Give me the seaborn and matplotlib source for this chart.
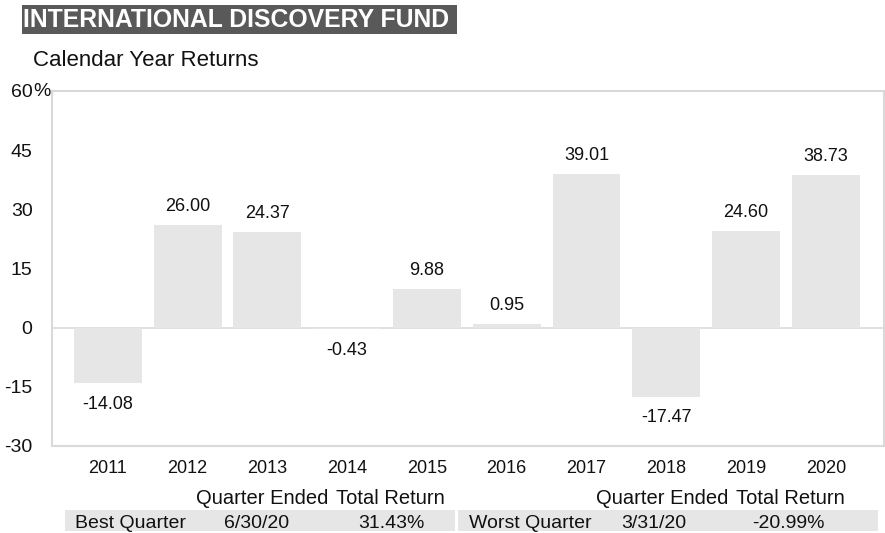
import matplotlib
matplotlib.use("Agg")
import matplotlib.pyplot as plt
import seaborn as sns
import pandas as pd
from matplotlib.patches import Rectangle

years = ["2011", "2012", "2013", "2014", "2015", "2016", "2017", "2018", "2019", "2020"]
returns = [-14.08, 26.00, 24.37, -0.43, 9.88, 0.95, 39.01, -17.47, 24.60, 38.73]
yticks = [60, 45, 30, 15, 0, -15, -30]
title = "INTERNATIONAL DISCOVERY FUND"
subtitle = "Calendar Year Returns"
header = ["Quarter Ended", "Total Return"]
best = ["Best Quarter", "6/30/20", "31.43%"]
worst = ["Worst Quarter", "3/31/20", "-20.99%"]

sns.set_theme(style="white")
plt.rcParams["font.family"] = ["Liberation Sans", "DejaVu Sans"]

W, H = 885, 533
fig = plt.figure(figsize=(W / 100, H / 100), dpi=100)
TXT = "#111111"
FS = 13

def fx(px):
    return px / W

def fy(py):
    return 1 - py / H

ax = fig.add_axes([fx(52), fy(446), fx(884) - fx(52), fy(91) - fy(446)])
df = pd.DataFrame({"year": years, "ret": returns})
sns.barplot(data=df, x="year", y="ret", color="#e6e6e6", saturation=1,
            width=0.85, ax=ax, edgecolor="none")
ax.set_ylim(-30, 60)
ax.set_xlim(-0.70, len(years) - 0.27)
ax.axhline(0, color="#d9d9d9", lw=1.2, zorder=0.5)
for s in ax.spines.values():
    s.set_color("#d9d9d9")
    s.set_linewidth(1.5)
ax.set_xlabel("")
ax.set_ylabel("")
ax.set_yticks(yticks)
ax.set_yticklabels([str(v) for v in yticks], fontsize=14, color=TXT)
ax.tick_params(axis="y", length=0, pad=14)
ax.tick_params(axis="x", length=0, pad=10, labelsize=FS, labelcolor=TXT)

for i, v in enumerate(returns):
    if v >= 0:
        ax.annotate(f"{v:.2f}", (i, v), xytext=(0, 7), textcoords="offset points",
                    ha="center", va="bottom", fontsize=FS, color=TXT)
    else:
        ax.annotate(f"{v:.2f}", (i, v), xytext=(0, -9), textcoords="offset points",
                    ha="center", va="top", fontsize=FS, color=TXT)

# percent sign next to 60
fig.text(fx(33), fy(92), "%", ha="left", va="center", fontsize=14, color=TXT)

# title box
fig.patches.append(Rectangle((fx(22), fy(34)), fx(457) - fx(22), fy(5) - fy(34),
                             transform=fig.transFigure, facecolor="#595959",
                             edgecolor="none"))
fig.text(fx(23), fy(20), title, ha="left", va="center", fontsize=17.8,
         fontweight="bold", color="white")
fig.text(fx(33), fy(61), subtitle, ha="left", va="center", fontsize=16, color=TXT)

# bottom table
for x0, x1 in [(65, 455), (458, 878)]:
    fig.patches.append(Rectangle((fx(x0), fy(531)), fx(x1) - fx(x0), fy(510) - fy(531),
                                 transform=fig.transFigure, facecolor="#e6e6e6",
                                 edgecolor="none"))
TFS = 14
hy = fy(498)
for off in (0, 400):
    fig.text(fx(328 + off), hy, header[0], ha="right", va="center", fontsize=14.5, color=TXT)
    fig.text(fx(445 + off), hy, header[1], ha="right", va="center", fontsize=14.5, color=TXT)
ty = fy(523)
fig.text(fx(75), ty, best[0], ha="left", va="center", fontsize=TFS, color=TXT)
fig.text(fx(257), ty, best[1], ha="center", va="center", fontsize=TFS, color=TXT)
fig.text(fx(425), ty, best[2], ha="right", va="center", fontsize=TFS, color=TXT)
fig.text(fx(469), ty, worst[0], ha="left", va="center", fontsize=TFS, color=TXT)
fig.text(fx(654), ty, worst[1], ha="center", va="center", fontsize=TFS, color=TXT)
fig.text(fx(825), ty, worst[2], ha="right", va="center", fontsize=TFS, color=TXT)

fig.savefig("out.png", dpi=100)
